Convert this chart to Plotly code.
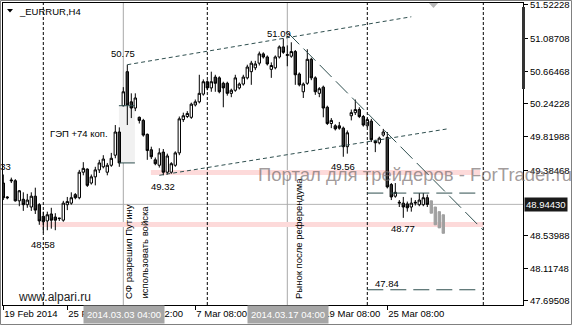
import plotly.graph_objects as go

# ---------------- data ----------------
bar_idx = list(range(107))
opens = [49.22, 49.04, 49.26, 49.25, 48.99, 49.01, 48.94, 48.91, 49.05, 48.94,
         48.79, 48.73, 48.82, 48.78, 48.76, 48.74, 48.94, 48.96, 49.07, 49.03,
         49.36, 49.40, 49.22, 49.30, 49.39, 49.43, 49.36, 49.45, 49.58, 49.88,
         50.22, 50.66, 50.27, 50.19, 50.07, 50.03, 49.85, 49.65, 49.52, 49.45,
         49.62, 49.36, 49.36, 49.45, 49.61, 50.04, 50.08, 50.07, 50.23, 50.27,
         50.37, 50.53, 50.45, 50.59, 50.58, 50.51, 50.51, 50.38, 50.42, 50.45,
         50.50, 50.58, 50.66, 50.71, 50.77, 50.89, 50.85, 50.69, 50.71, 50.85,
         50.98, 50.87, 50.86, 50.92, 50.63, 50.40, 50.51, 50.82, 50.58, 50.38,
         50.46, 50.20, 49.99, 49.96, 49.96, 49.93, 49.69, 50.09, 50.13, 50.17,
         50.08, 49.96, 50.02, 49.76, 49.74, 49.84, 49.81, 49.20, 49.05, 48.96,
         48.96, 48.95, 48.91, 48.96, 48.94, 48.94, 49.03]
highs = [49.33, 49.05, 49.29, 49.27, 49.13, 49.10, 49.08, 49.10, 49.16, 48.96,
         48.85, 48.85, 48.90, 48.83, 48.77, 48.99, 49.04, 49.10, 49.09, 49.39,
         49.49, 49.41, 49.33, 49.43, 49.52, 49.58, 49.48, 49.61, 49.97, 49.94,
         50.46, 50.75, 50.38, 50.38, 50.08, 50.05, 49.86, 49.69, 49.55, 49.67,
         49.66, 49.60, 49.49, 49.63, 50.08, 50.13, 50.15, 50.26, 50.30, 50.62,
         50.56, 50.55, 50.66, 50.62, 50.60, 50.53, 50.53, 50.44, 50.62, 50.52,
         50.62, 50.75, 50.80, 50.80, 50.92, 50.91, 50.87, 50.78, 50.87, 51.00,
         51.09, 51.00, 51.04, 50.94, 50.65, 50.52, 50.95, 50.84, 50.60, 50.46,
         50.48, 50.22, 50.06, 49.98, 50.01, 49.95, 49.90, 50.17, 50.30, 50.20,
         50.10, 50.06, 50.05, 49.78, 49.82, 49.92, 49.88, 49.22, 49.22, 49.00,
         49.04, 48.98, 49.03, 49.00, 49.09, 49.09, 49.07]
lows = [49.00, 49.01, 49.22, 48.98, 48.92, 48.86, 48.90, 48.86, 48.82, 48.68,
        48.58, 48.61, 48.63, 48.61, 48.73, 48.72, 48.87, 48.94, 49.01, 49.01,
        49.32, 49.17, 49.20, 49.19, 49.35, 49.41, 49.32, 49.43, 49.54, 49.43,
        50.21, 49.97, 50.06, 50.15, 49.99, 49.82, 49.52, 49.53, 49.45, 49.42,
        49.32, 49.33, 49.34, 49.43, 49.58, 50.01, 50.06, 50.05, 50.21, 50.25,
        50.35, 50.42, 50.40, 50.40, 50.38, 50.20, 50.35, 50.33, 50.40, 50.43,
        50.48, 50.56, 50.49, 50.68, 50.74, 50.83, 50.74, 50.58, 50.69, 50.83,
        50.89, 50.73, 50.84, 50.49, 50.47, 50.32, 50.49, 50.55, 50.36, 50.33,
        50.07, 49.97, 49.93, 49.90, 49.91, 49.56, 49.60, 50.03, 50.10, 50.06,
        49.95, 49.94, 49.75, 49.62, 49.72, 49.82, 49.15, 49.00, 49.03, 48.91,
        48.77, 48.85, 48.85, 48.93, 48.92, 48.92, 48.91]
closes = [49.03, 49.03, 49.25, 48.99, 49.12, 48.94, 49.00, 49.05, 48.87, 48.73,
          48.72, 48.81, 48.74, 48.74, 48.765, 48.96, 48.98, 49.03, 49.03, 49.36,
          49.41, 49.19, 49.30, 49.39, 49.48, 49.53, 49.45, 49.54, 49.88, 49.48,
          50.40, 50.23, 50.19, 50.32, 50.03, 49.84, 49.64, 49.56, 49.47, 49.61,
          49.36, 49.57, 49.47, 49.61, 50.05, 50.09, 50.12, 50.24, 50.27, 50.38,
          50.53, 50.45, 50.53, 50.51, 50.40, 50.45, 50.38, 50.42, 50.58, 50.50,
          50.59, 50.72, 50.77, 50.76, 50.89, 50.85, 50.76, 50.74, 50.85, 50.98,
          50.91, 50.88, 50.92, 50.62, 50.49, 50.50, 50.82, 50.58, 50.40, 50.44,
          50.19, 49.99, 50.03, 49.92, 49.93, 49.69, 49.87, 50.13, 50.17, 50.08,
          49.97, 50.04, 49.78, 49.74, 49.80, 49.88, 49.17, 49.04, 49.10, 48.97,
          48.91, 48.90, 48.96, 48.97, 49.00, 49.03, 48.944]

proj_idx = [107, 108, 109, 110]
proj_open = [48.99, 48.91, 48.85, 48.81]
proj_close = [48.83, 48.68, 48.64, 48.57]

x_tick_idx = [0, 16, 32, 48, 64, 80, 96]
x_tick_text = ["19 Feb 2014", "25 Feb 12:00", "3 Mar 12:00", "7 Mar 08:00",
               "13 Mar 08:00", "19 Mar 08:00", "25 Mar 08:00"]
y_tick_vals = [51.52228, 51.08708, 50.66468, 50.24228, 49.81988, 49.38468,
               48.53988, 48.11748, 47.69508]
last_price = 48.94430

# levels / objects
gap_low, gap_high = 49.48, 50.22
support_low = (48.652, 48.717)
support_mid = (49.325, 49.390)
channel_top = [(31, 50.75), (102, 51.37)]
channel_bottom = [(39, 49.32), (111, 49.92)]
down_trend = [(71, 51.17), (120, 48.61)]
level_a, level_b = 49.09, 47.84
separators = [10, 51, 91, 120]
event_bars = [30, 71]
event_text = ["2014.03.03 04:00", "2014.03.17 04:00"]
price_marks = [("50.75", 30, 50.89), ("51.09", 69, 51.16), ("49.32", 40, 49.17),
               ("49.56", 85, 49.43), ("48.77", 100, 48.63), ("48.58", 10, 48.43),
               ("47.84", 96, 47.915)]

FONT = "Liberation Sans, Arial, sans-serif"
TEAL = "#2f4f4f"
Y_RANGE = [47.643, 51.548]
X_RANGE = [-0.075, 129.925]
W, H = 572, 325
ML, MR, MT, MB = 3, 49, 3, 20
PW, PH = W - ML - MR, H - MT - MB


def px(xp):  # pixel x -> paper
    return (xp - ML) / PW


def py(yp):  # pixel y -> paper
    return 1 - (yp - MT) / PH


fig = go.Figure()
fig.add_trace(go.Candlestick(
    x=bar_idx, open=opens, high=highs, low=lows, close=closes,
    increasing=dict(line=dict(color="black", width=1), fillcolor="white"),
    decreasing=dict(line=dict(color="black", width=1), fillcolor="#333333"),
    whiskerwidth=0, showlegend=False, hoverinfo="skip"))
fig.add_trace(go.Candlestick(
    x=proj_idx, open=proj_open, high=proj_open, low=proj_close, close=proj_close,
    increasing=dict(line=dict(color="#a0a0a0", width=1), fillcolor="#a0a0a0"),
    decreasing=dict(line=dict(color="#a0a0a0", width=1), fillcolor="#a0a0a0"),
    whiskerwidth=0, showlegend=False, hoverinfo="skip"))

shapes = []
# support zones
shapes.append(dict(type="rect", xref="x", yref="y", x0=9.2, x1=120, y0=support_low[0],
                   y1=support_low[1], fillcolor="#fddada", line=dict(width=0), layer="below"))
shapes.append(dict(type="rect", xref="x", yref="y", x0=36.9, x1=119.2, y0=support_mid[0],
                   y1=support_mid[1], fillcolor="#fddada", line=dict(width=0), layer="below"))
# gap box
shapes.append(dict(type="rect", xref="x", yref="y", x0=28.9, x1=32.9, y0=gap_low, y1=gap_high,
                   fillcolor="#f1f1f1", line=dict(width=0), layer="below"))
for gy in (gap_low, gap_high):
    shapes.append(dict(type="line", xref="x", yref="y", x0=28.9, x1=32.9, y0=gy, y1=gy,
                       line=dict(color=TEAL, width=1), layer="above"))
# bid line
shapes.append(dict(type="line", xref="paper", yref="y", x0=0, x1=1, y0=last_price, y1=last_price,
                   line=dict(color="#b4b4b4", width=1), layer="below"))
# event verticals
for k in event_bars:
    shapes.append(dict(type="line", xref="x", yref="paper", x0=k, x1=k, y0=0, y1=1,
                       line=dict(color="#a8a8a8", width=1), layer="below"))
# period separators
for k in separators:
    shapes.append(dict(type="line", xref="x", yref="paper", x0=k, x1=k, y0=0, y1=1,
                       line=dict(color="black", width=1, dash="3px,2px"), layer="above"))
# channel
for seg in (channel_top, channel_bottom):
    shapes.append(dict(type="line", xref="x", yref="y", x0=seg[0][0], y0=seg[0][1],
                       x1=seg[1][0], y1=seg[1][1], line=dict(color=TEAL, width=1, dash="4px,3px")))
shapes.append(dict(type="line", xref="x", yref="y", x0=down_trend[0][0], y0=down_trend[0][1],
                   x1=down_trend[1][0], y1=down_trend[1][1],
                   line=dict(color=TEAL, width=1, dash="17px,6px")))
for lv in (level_a, level_b):
    shapes.append(dict(type="line", xref="x", yref="y", x0=91, x1=120, y0=lv, y1=lv,
                       line=dict(color=TEAL, width=1, dash="16px,7px")))
# black bar at right edge
shapes.append(dict(type="rect", xref="paper", yref="y", x0=px(522), x1=px(525), y0=50.436,
                   y1=51.496, fillcolor="#333333", line=dict(width=0)))
# chart shift marker
shapes.append(dict(type="path", xref="x", yref="paper",
                   path=f"M 106.4,1 L 108.7,1 L 107.55,{py(8)} Z",
                   fillcolor="#b8b8b8", line=dict(width=0)))
# small triangle by symbol
shapes.append(dict(type="path", xref="paper", yref="paper",
                   path=f"M {px(7)},{py(9)} L {px(13)},{py(9)} L {px(10)},{py(12.5)} Z",
                   fillcolor="black", line=dict(width=0)))
# outer border
shapes.append(dict(type="rect", xref="paper", yref="paper", x0=px(0.5), x1=px(571.5),
                   y0=py(324.5), y1=py(0.5), line=dict(color="#808080", width=1)))

ann = []
ann.append(dict(text="_EURRUR,H4", xref="paper", yref="paper", x=px(17), y=py(11),
                xanchor="left", yanchor="middle", showarrow=False,
                font=dict(family=FONT, size=9.5, color="black")))
for t, k, v in price_marks:
    ann.append(dict(text=t, xref="x", yref="y", x=k, y=v, showarrow=False,
                    font=dict(family=FONT, size=9.5, color="black")))
ann.append(dict(text="49.33", xref="paper", yref="paper", x=px(13), y=py(166), xanchor="right",
                showarrow=False, font=dict(family=FONT, size=9.5, color="black")))
ann.append(dict(text="ГЭП +74 коп.", xref="x", yref="y", x=19, y=49.86, showarrow=False,
                font=dict(family=FONT, size=9.5, color="black")))
# vertical comments
vtexts = [("СФ разрешил Путину", 31.3), ("использовать войска", 35.2), ("Рынок после референдума", 73.8)]
for t, k in vtexts:
    ann.append(dict(text=t, xref="x", yref="paper", x=k, y=py(301), yanchor="bottom",
                    textangle=-90, showarrow=False,
                    font=dict(family=FONT, size=9.5, color="black")))
# watermark
ann.append(dict(text="Портал для трейдеров - ForTrader.ru", xref="paper", yref="paper",
                x=px(256), y=py(174), xanchor="left", yanchor="middle", showarrow=False,
                font=dict(family=FONT, size=18.5, color="rgba(115,105,105,0.68)")))
ann.append(dict(text="www.alpari.ru", xref="paper", yref="paper", x=px(16), y=py(296.5),
                xanchor="left", yanchor="middle", showarrow=False,
                font=dict(family=FONT, size=12, color="#222222")))
# event date boxes
for k, t in zip(event_bars, event_text):
    ann.append(dict(text=t, xref="x", yref="paper", x=k, y=py(314.5), yanchor="middle",
                    xshift=1, showarrow=False, bgcolor="#a6a6a6", borderpad=3,
                    font=dict(family=FONT, size=9.5, color="white")))
# current price box
ann.append(dict(text=f"{last_price:.5f}", xref="paper", yref="y", x=px(524), y=last_price,
                xanchor="left", yanchor="middle", showarrow=False, bgcolor="#1a1a1a",
                borderpad=1, font=dict(family=FONT, size=9.5, color="white")))

fig.update_layout(
    width=W, height=H, margin=dict(l=ML, r=MR, t=MT, b=MB, autoexpand=False),
    paper_bgcolor="white", plot_bgcolor="white", showlegend=False, boxgap=0.15,
    shapes=shapes, annotations=ann, hovermode=False,
    xaxis=dict(range=X_RANGE, rangeslider=dict(visible=False), showgrid=False, zeroline=False,
               tickvals=x_tick_idx, ticktext=x_tick_text, ticks="outside", ticklen=4,
               tickcolor="black", ticklabelposition="outside right", tickangle=0,
               automargin=False, ticklabeloverflow="allow",
               tickfont=dict(family=FONT, size=9.5, color="black"),
               showline=True, mirror=True, linecolor="black", linewidth=1, fixedrange=True),
    yaxis=dict(range=Y_RANGE, side="right", showgrid=False, zeroline=False,
               tickvals=y_tick_vals, ticktext=[f"{v:.5f}" for v in y_tick_vals],
               ticks="outside", ticklen=4, tickcolor="black", automargin=False,
               ticklabeloverflow="allow",
               tickfont=dict(family=FONT, size=9.5, color="black"),
               showline=True, mirror=True, linecolor="black", linewidth=1, fixedrange=True),
)

fig.write_html("out.html")
